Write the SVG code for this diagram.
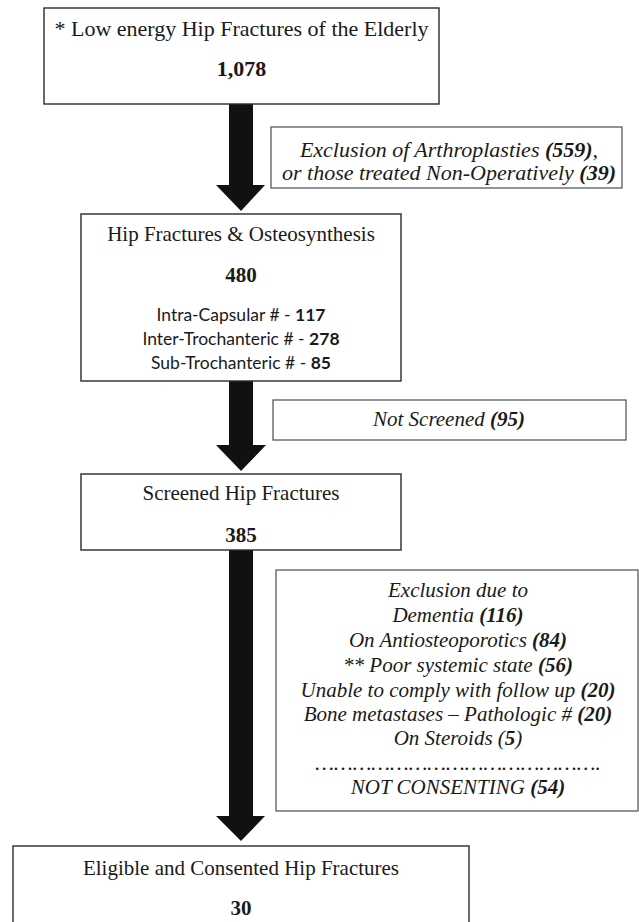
<svg xmlns="http://www.w3.org/2000/svg" width="639" height="922" viewBox="0 0 639 922">
<style>
.box{fill:#fff;stroke:#2a2a2a;stroke-width:1.4}
.ex{fill:#fff;stroke:#5a5a5a;stroke-width:1.3}
.t{font-family:"Liberation Serif","Times New Roman",serif;font-size:21px;fill:#1a1a1a;text-anchor:middle}
.l{font-size:22px}
.i{font-style:italic}
.b{font-weight:bold}
.s{font-family:Lato,"Liberation Sans",sans-serif;font-size:17.5px;fill:#1a1a1a;text-anchor:middle}
.arrow{fill:#111}
</style>
<rect width="639" height="922" fill="#fff"/>
<g id="connectors">
<polygon class="arrow" points="229,104 253,104 253,185 265,185 241,211 216,185 229,185"/>
<polygon class="arrow" points="229,381 253,381 253,445 266,445 241,471 216,445 229,445"/>
<polygon class="arrow" points="229,550 253,550 253,816 265,816 241,841 216,816 229,816"/>
</g>
<g id="n1">
<rect class="box" x="44" y="8" width="395" height="96"/>
<text class="t l" x="241.5" y="36">* Low energy Hip Fractures of the Elderly</text>
<text class="t l b" x="241.5" y="76">1,078</text>
</g>
<g id="x1">
<rect class="ex" x="271" y="127" width="351" height="61"/>
<text class="t l i" x="449" y="157">Exclusion of Arthroplasties <tspan class="b">(559)</tspan>,</text>
<text class="t l i" x="449" y="180">or those treated Non-Operatively <tspan class="b">(39)</tspan></text>
</g>
<g id="n2">
<rect class="box" x="81" y="214" width="320" height="167"/>
<text class="t" x="241" y="241">Hip Fractures &amp; Osteosynthesis</text>
<text class="t b" x="241" y="282">480</text>
<text class="s" x="241" y="321">Intra-Capsular # - <tspan font-weight="bold">117</tspan></text>
<text class="s" x="241" y="344.5">Inter-Trochanteric # - <tspan font-weight="bold">278</tspan></text>
<text class="s" x="241" y="368.5">Sub-Trochanteric # - <tspan font-weight="bold">85</tspan></text>
</g>
<g id="x2">
<rect class="ex" x="273" y="400" width="353" height="40"/>
<text class="t i" x="449" y="426">Not Screened <tspan class="b">(95)</tspan></text>
</g>
<g id="n3">
<rect class="box" x="81" y="474" width="320" height="76"/>
<text class="t" x="241" y="500">Screened Hip Fractures</text>
<text class="t b" x="241" y="542">385</text>
</g>
<g id="x3">
<rect class="ex" x="276" y="570" width="362" height="241"/>
<text class="t i" x="458" y="597">Exclusion due to</text>
<text class="t i" x="458" y="622">Dementia <tspan class="b">(116)</tspan></text>
<text class="t i" x="458" y="647">On Antiosteoporotics <tspan class="b">(84)</tspan></text>
<text class="t i" x="458" y="672">** Poor systemic state <tspan class="b">(56)</tspan></text>
<text class="t i" x="458" y="697">Unable to comply with follow up <tspan class="b">(20)</tspan></text>
<text class="t i" x="458" y="721">Bone metastases – Pathologic # <tspan class="b">(20)</tspan></text>
<text class="t i" x="458" y="745">On Steroids (<tspan class="b">5</tspan>)</text>
<text class="t i" x="458" y="770">……………………………………….</text>
<text class="t i" x="458" y="794">NOT CONSENTING <tspan class="b">(54)</tspan></text>
</g>
<g id="n4">
<rect class="box" x="13" y="846" width="456" height="90"/>
<text class="t" x="241" y="875">Eligible and Consented Hip Fractures</text>
<text class="t b" x="241" y="915">30</text>
</g>
</svg>
